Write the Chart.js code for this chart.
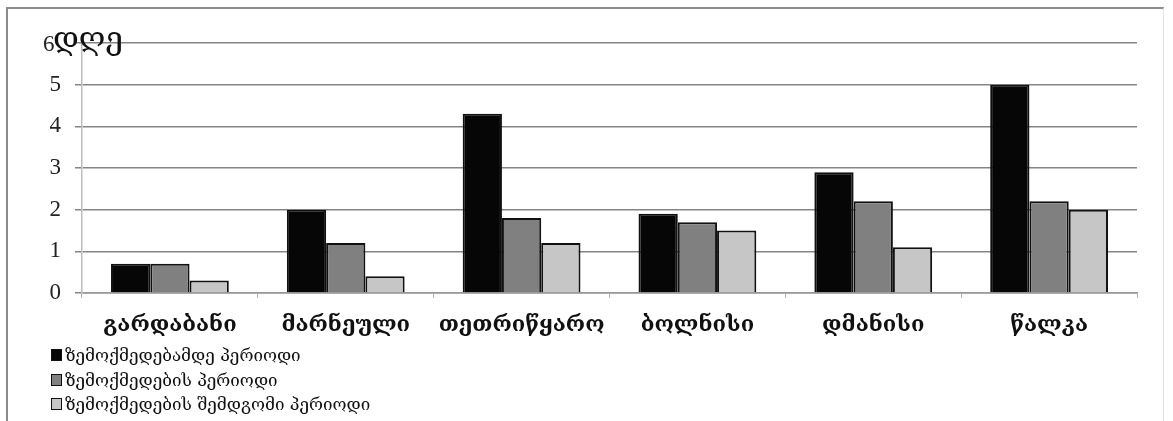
<!DOCTYPE html>
<html>
<head>
<meta charset="utf-8">
<script src="https://cdn.jsdelivr.net/npm/chart.js@4.4.1/dist/chart.umd.min.js"></script>
<style>
  html, body { margin: 0; padding: 0; background: #fff; }
  #wrap { position: relative; width: 1173px; height: 421px; overflow: hidden; }
  #frame {
    position: absolute; left: 6px; top: 7px; width: 1155px; height: 430px;
    border-top: 2px solid #8c8c8c; border-left: 2px solid #8c8c8c; border-right: 1px solid #e2e2e2;
  }
  canvas { position: absolute; left: 0; top: 0; }
  #legend { position: absolute; left: 51px; top: 343px; font-family: 'DejaVu Serif', serif; font-size: 17px; color: #111; }
  .item { height: 24.5px; line-height: 20px; display: flex; align-items: center; }
  .box { width: 9px; height: 10px; border: 1px solid #111; margin-right: 3px; }
</style>
</head>
<body>
<div id="wrap">
  <div id="frame"></div>
  <canvas id="grafica" width="1173" height="421"></canvas>
  <div id="legend"></div>
</div>
<script>
// categorías y series
const categorias = ["გარდაბანი", "მარნეული", "თეთრიწყარო", "ბოლნისი", "დმანისი", "წალკა"];
const nombresSeries = ["ზემოქმედებამდე პერიოდი", "ზემოქმედების პერიოდი", "ზემოქმედების შემდგომი პერიოდი"];
const antes = [0.7, 2.0, 4.3, 1.9, 2.9, 5.0];
const durante = [0.7, 1.2, 1.8, 1.7, 2.2, 2.2];
const despues = [0.3, 0.4, 1.2, 1.5, 1.1, 2.0];
const yMax = 6;
const unidad = "დღე";

const colores = ["#060606", "#808080", "#c6c6c6"];
const valores = [antes, durante, despues];

// el 6 de arriba va corrido a la izquierda y seguido de "დღე"
const etiquetaUnidad = {
  id: "etiquetaUnidad",
  afterDraw(chart) {
    const y = chart.scales.y;
    const c = chart.ctx;
    const py = y.getPixelForValue(yMax);
    c.save();
    c.fillStyle = "#222";
    c.textAlign = "left";
    c.textBaseline = "middle";
    c.font = "23px 'Liberation Serif', serif";
    c.fillText(String(yMax), y.right - 39, py + 2);
    c.fillStyle = "#111";
    c.textBaseline = "alphabetic";
    c.font = "31px 'DejaVu Serif', serif";
    c.fillText(unidad, y.right - 29, py + 6);
    c.restore();
  }
};

const chart = new Chart(document.getElementById("grafica").getContext("2d"), {
  type: "bar",
  data: {
    labels: categorias,
    datasets: valores.map((v, i) => ({
      label: nombresSeries[i],
      data: v,
      backgroundColor: colores[i],
      borderColor: "#111",
      borderWidth: 2,
      borderSkipped: "bottom",
      categoryPercentage: 0.67,
      barPercentage: 1.0
    }))
  },
  options: {
    responsive: false,
    animation: false,
    layout: { padding: { left: 0, top: 43, right: 36, bottom: 0 } },
    plugins: { legend: { display: false }, tooltip: { enabled: false } },
    scales: {
      x: {
        grid: { drawOnChartArea: false, drawTicks: true, tickLength: 5, color: "#b0b0b0", offset: true },
        border: { color: "#9a9a9a", width: 1.5 },
        ticks: { color: "#111", font: { family: "'DejaVu Serif', serif", size: 22, weight: "bold" }, padding: 14 },
        afterFit(s) { s.height = 128; }
      },
      y: {
        min: 0, max: yMax,
        ticks: {
          stepSize: 1, color: "#222", font: { family: "'Liberation Serif', serif", size: 23 }, padding: 14,
          callback: (v) => (v === yMax ? "" : v)
        },
        grid: { color: "#858585", lineWidth: 1.5, tickLength: 7 },
        border: { color: "#bdbdbd", width: 1.5 },
        afterFit(s) { s.width = 82; }
      }
    }
  },
  plugins: [etiquetaUnidad]
});

// leyenda vertical abajo a la izquierda
const leyenda = document.getElementById("legend");
nombresSeries.forEach((n, i) => {
  const fila = document.createElement("div");
  fila.className = "item";
  fila.innerHTML = `<span class="box" style="background:${colores[i]}"></span><span>${n}</span>`;
  leyenda.appendChild(fila);
});
</script>
</body>
</html>
